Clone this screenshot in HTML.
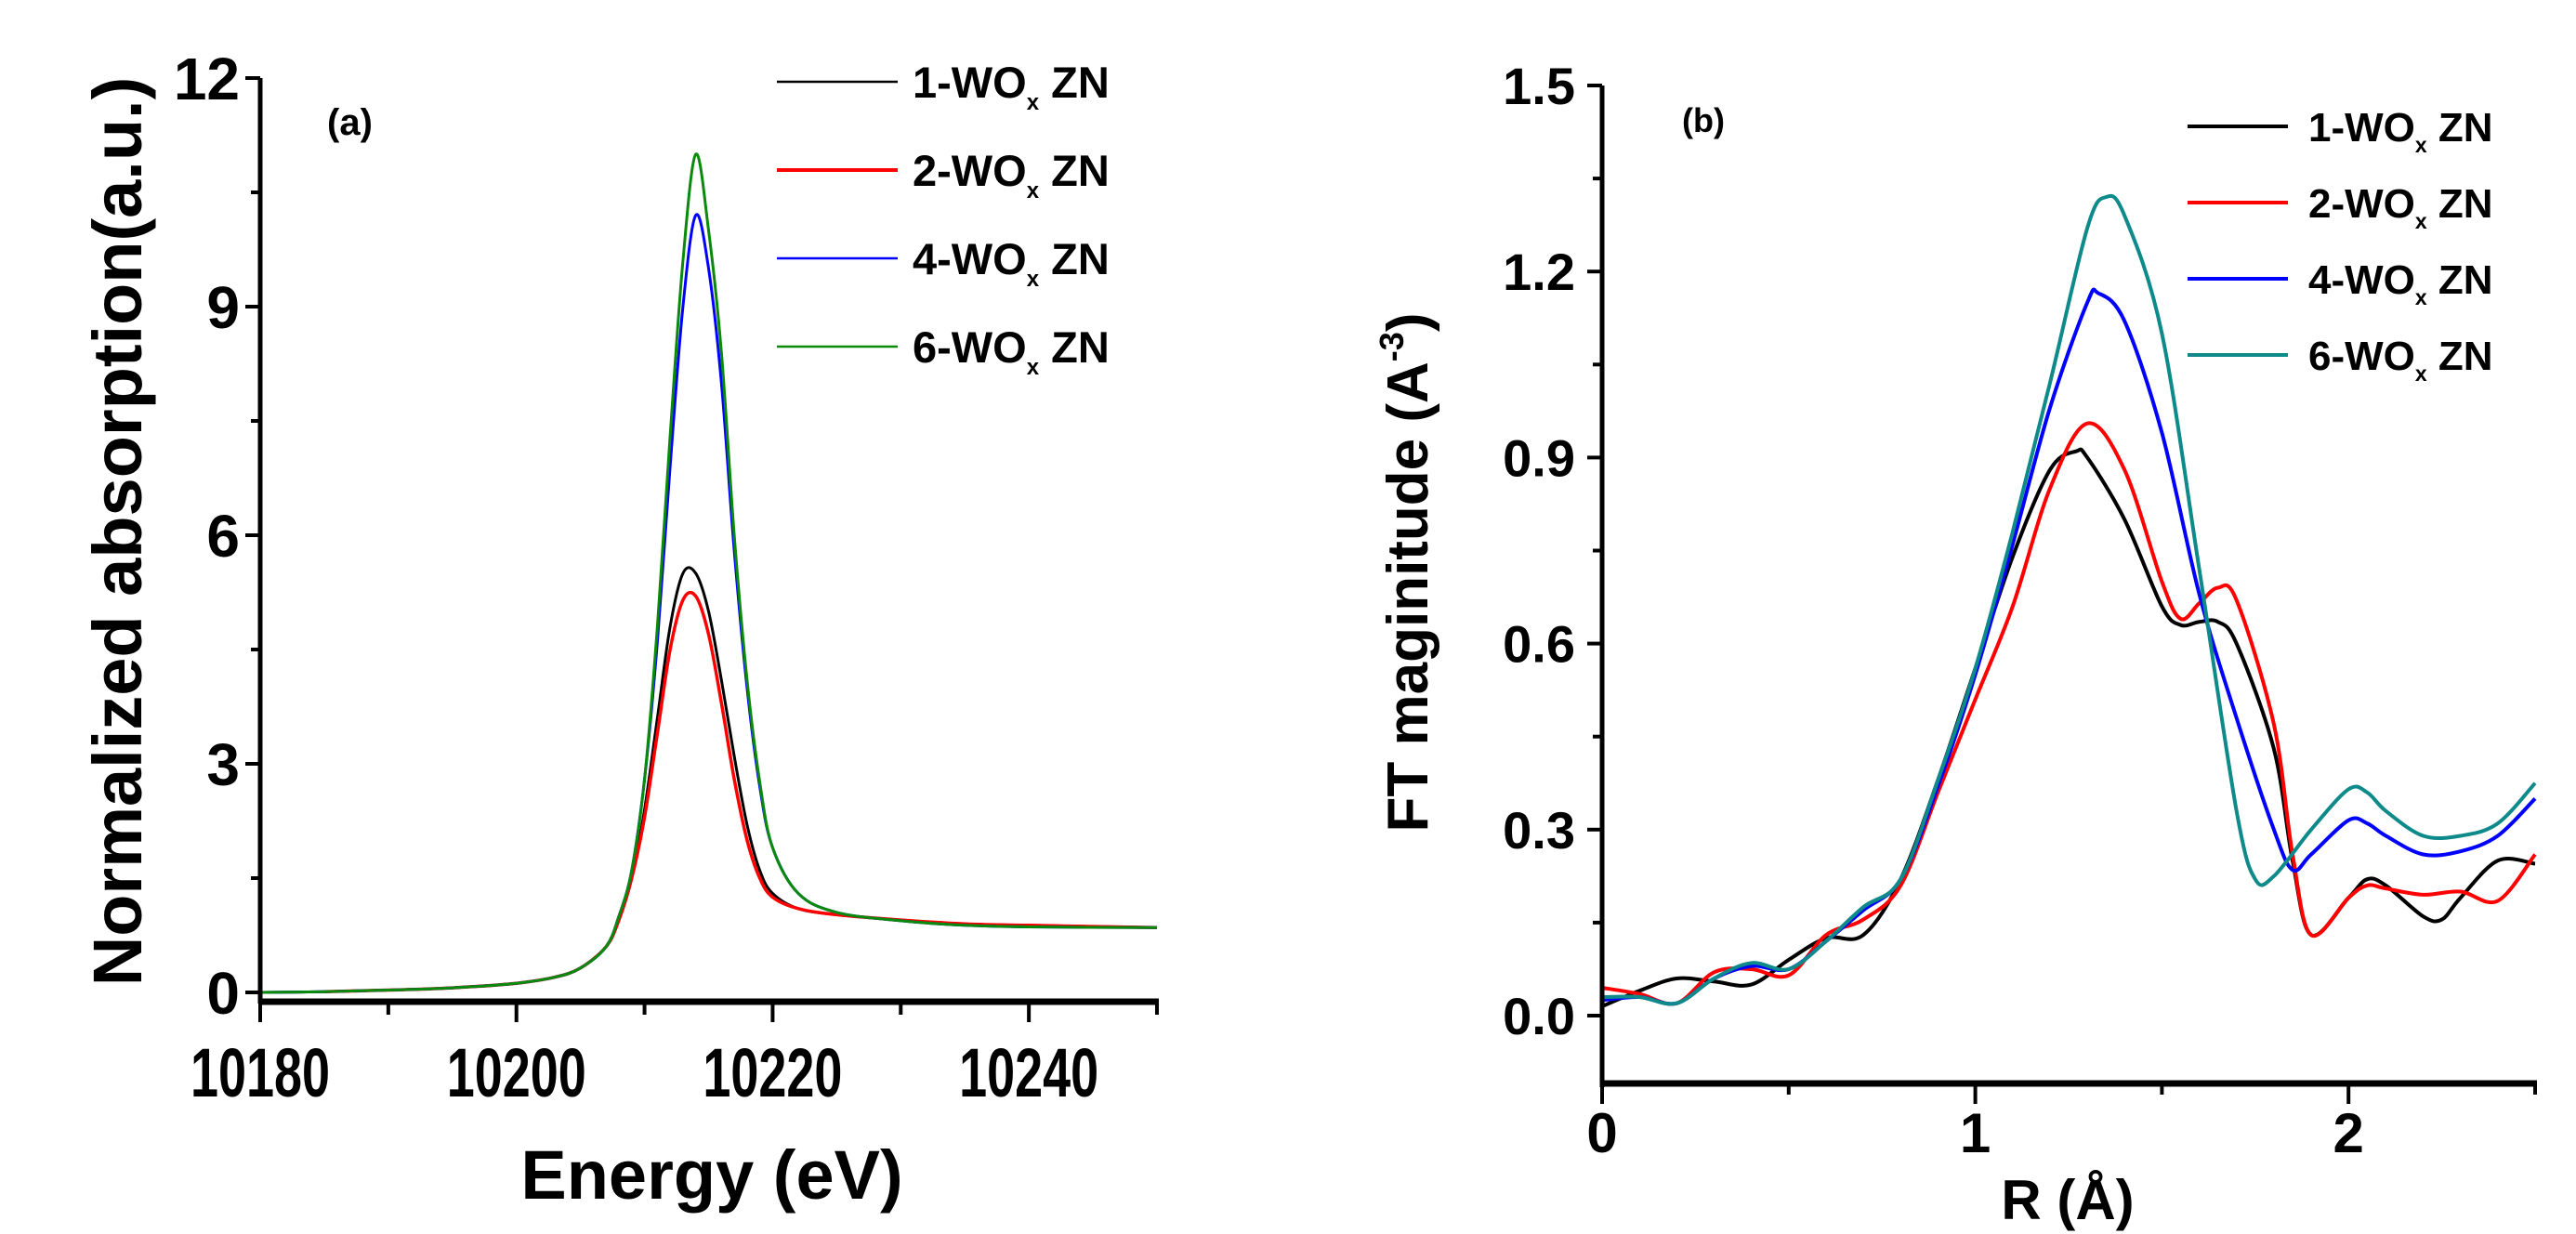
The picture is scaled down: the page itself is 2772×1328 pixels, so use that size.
<!DOCTYPE html>
<html><head><meta charset="utf-8"><style>
html,body{margin:0;padding:0;background:#fff;}
svg{display:block;font-family:"Liberation Sans",Arial,sans-serif;font-weight:bold;}
</style></head><body>
<svg id="fig" width="2772" height="1328" viewBox="0 0 2772 1328" xmlns="http://www.w3.org/2000/svg">
<g id="pa"></g>
<g id="pb"></g>
</svg>
<script>
// Panel (a) data
const aE = [10180,10185,10190,10195,10200,10203,10205,10207,10208,10209,10210,10211,10212,10213,10214,10215,10216,10217,10218,10219,10220,10222,10225,10230,10235,10240,10250];
const a1 = [0,0.01,0.03,0.06,0.12,0.2,0.32,0.6,0.95,1.5,2.4,3.6,4.8,5.5,5.5,5.0,4.1,3.1,2.2,1.6,1.3,1.1,1.02,0.95,0.9,0.88,0.85];
const a2 = [0,0.01,0.03,0.06,0.12,0.2,0.32,0.6,0.95,1.5,2.3,3.4,4.5,5.15,5.2,4.7,3.8,2.8,2.0,1.5,1.25,1.1,1.02,0.95,0.9,0.88,0.85];
const a4 = [0,0.01,0.03,0.06,0.12,0.2,0.32,0.6,1.0,1.6,2.8,4.6,6.9,9.0,10.2,9.5,8.0,5.8,4.0,2.7,1.9,1.3,1.05,0.94,0.88,0.86,0.85];
const a6 = [0,0.01,0.03,0.06,0.12,0.2,0.32,0.6,1.0,1.6,2.8,4.8,7.3,9.6,11.0,10.0,8.4,6.0,4.1,2.76,1.9,1.3,1.05,0.94,0.88,0.86,0.85];
const aYTicks = ["0","3","6","9","12"];
const aXTicks = ["10180","10200","10220","10240"];
// Panel (b) data
const bR1 = [0,0.1,0.2,0.3,0.4,0.5,0.6,0.7,0.8,0.9,1.0,1.1,1.2,1.27,1.3,1.4,1.5,1.55,1.6,1.65,1.7,1.8,1.85,1.9,2.0,2.05,2.1,2.2,2.25,2.3,2.4,2.5];
const b1 = [0.015,0.04,0.06,0.055,0.05,0.09,0.125,0.13,0.22,0.38,0.56,0.74,0.88,0.91,0.9,0.8,0.66,0.63,0.635,0.635,0.6,0.43,0.25,0.13,0.19,0.22,0.21,0.16,0.155,0.19,0.25,0.245];
const bR2 = [0,0.1,0.2,0.3,0.4,0.5,0.6,0.7,0.8,0.9,1.0,1.1,1.2,1.3,1.4,1.5,1.55,1.6,1.65,1.7,1.8,1.85,1.9,2.0,2.05,2.1,2.2,2.3,2.4,2.5];
const b2 = [0.045,0.035,0.02,0.07,0.075,0.065,0.13,0.155,0.21,0.36,0.51,0.66,0.85,0.955,0.88,0.7,0.64,0.665,0.69,0.67,0.47,0.26,0.13,0.19,0.21,0.205,0.195,0.2,0.185,0.26];
const bR4 = [0,0.1,0.2,0.3,0.4,0.5,0.6,0.7,0.8,0.9,1.0,1.1,1.2,1.3,1.33,1.4,1.5,1.6,1.7,1.8,1.85,1.9,2.0,2.05,2.1,2.2,2.3,2.4,2.5];
const b4 = [0.025,0.03,0.02,0.06,0.08,0.075,0.12,0.17,0.22,0.37,0.55,0.76,0.98,1.15,1.165,1.12,0.94,0.68,0.48,0.3,0.235,0.26,0.315,0.31,0.29,0.26,0.265,0.29,0.35];
const bR6 = [0,0.1,0.2,0.3,0.4,0.5,0.6,0.7,0.8,0.9,1.0,1.1,1.2,1.3,1.35,1.4,1.5,1.6,1.7,1.75,1.8,1.9,2.0,2.05,2.1,2.2,2.3,2.4,2.5];
const b6 = [0.03,0.03,0.02,0.06,0.085,0.075,0.12,0.175,0.22,0.38,0.56,0.78,1.02,1.27,1.32,1.29,1.1,0.72,0.33,0.22,0.225,0.3,0.365,0.36,0.33,0.29,0.29,0.31,0.375];
const bYTicks = ["0.0","0.3","0.6","0.9","1.2","1.5"];
const bXTicks = ["0","1","2"];
const legendLabels = ["1","2","4","6"];

const NS="http://www.w3.org/2000/svg";
function mk(parent,tag,attrs,text){const e=document.createElementNS(NS,tag);for(const k in attrs)e.setAttribute(k,attrs[k]);if(text!==undefined)e.textContent=text;parent.appendChild(e);return e;}
function smooth(pts){let d="M"+pts[0][0].toFixed(1)+","+pts[0][1].toFixed(1);for(let i=0;i<pts.length-1;i++){const p0=pts[Math.max(0,i-1)],p1=pts[i],p2=pts[i+1],p3=pts[Math.min(pts.length-1,i+2)];const c1=[p1[0]+(p2[0]-p0[0])/6,p1[1]+(p2[1]-p0[1])/6],c2=[p2[0]-(p3[0]-p1[0])/6,p2[1]-(p3[1]-p1[1])/6];d+="C"+c1[0].toFixed(1)+","+c1[1].toFixed(1)+" "+c2[0].toFixed(1)+","+c2[1].toFixed(1)+" "+p2[0].toFixed(1)+","+p2[1].toFixed(1);}return d;}

// ---------- Panel a ----------
const pa=document.getElementById('pa');
const AX0=280, AX1=1245, AY0=1068, AY1=84, AXL=1078;
const ax=v=>AX0+(v-10180)*(AX1-AX0)/70;
const ay=v=>AY0-v*(AY0-AY1)/12;
const aSeries=[[aE,a1,"#000",3,"series-1-wox"],[aE.slice(1),a2.slice(1),"#ff0000",3.5,"series-2-wox"],[aE,a4,"#0000ff",3,"series-4-wox"],[aE,a6,"#0a8a0a",3,"series-6-wox"]];
aSeries.forEach(s=>{const p=mk(pa,'path',{d:smooth(s[0].map((x,i)=>[ax(x),ay(s[1][i])])),fill:"none",stroke:s[2],'stroke-width':s[3]});

});
mk(pa,'line',{x1:AX0,y1:AY1,x2:AX0,y2:AXL+2,stroke:"#000",'stroke-width':5,});
mk(pa,'line',{x1:AX0-2,y1:AXL,x2:AX1+2,y2:AXL,stroke:"#000",'stroke-width':7,});
for(let i=0;i<=8;i++){const v=i*1.5;mk(pa,'line',{x1:AX0-(i%2?10:16),y1:ay(v),x2:AX0,y2:ay(v),stroke:"#000",'stroke-width':4});}
aYTicks.forEach(t=>{const e=mk(pa,'text',{x:AX0-22,y:ay(+t)+23,'text-anchor':'end','font-size':64},t);

});
for(let v=10180;v<=10250;v+=10){mk(pa,'line',{x1:ax(v),y1:AXL,x2:ax(v),y2:AXL+((v-10180)%20?14:22),stroke:"#000",'stroke-width':4});}
aXTicks.forEach(t=>{const e=mk(pa,'text',{x:ax(+t),y:1180,'text-anchor':'middle','font-size':74,textLength:150,lengthAdjust:'spacingAndGlyphs'},t);

});
mk(pa,'text',{x:766,y:1290,'text-anchor':'middle','font-size':74,},"Energy (eV)");
mk(pa,'text',{x:0,y:0,'text-anchor':'middle','font-size':74,transform:'translate(152,572) rotate(-90)',},"Normalized absorption(a.u.)");
mk(pa,'text',{x:352,y:145,'font-size':40,},"(a)");
const aCols=["#000","#ff0000","#0000ff","#0a8a0a"];
legendLabels.forEach((l,i)=>{const y=88+i*95;const g=mk(pa,'g',{});


mk(g,'line',{x1:836,y1:y,x2:966,y2:y,stroke:aCols[i],'stroke-width':i==1?4:2.5});
const t=mk(g,'text',{x:982,y:y+17,'font-size':47},l+"-WO");mk(t,'tspan',{'font-size':24,dy:13},"x");mk(t,'tspan',{dy:-13},"\u00a0ZN");});

// ---------- Panel b ----------
const pb=document.getElementById('pb');
const bx=v=>1724+v*(2728-1724)/2.5;
const by=v=>1093-v*(1093-92)/1.5;
const bSeries=[[bR1,b1,"#000","series-1-wox-ft"],[bR2,b2,"#ff0000","series-2-wox-ft"],[bR4,b4,"#0000ff","series-4-wox-ft"],[bR6,b6,"#0e8a8a","series-6-wox-ft"]];
bSeries.forEach(s=>{const p=mk(pb,'path',{d:smooth(s[0].map((x,i)=>[bx(x),by(s[1][i])])),fill:"none",stroke:s[2],'stroke-width':4});

});
mk(pb,'line',{x1:1724,y1:92,x2:1724,y2:1170,stroke:"#000",'stroke-width':5,});
mk(pb,'line',{x1:1722,y1:1166,x2:2730,y2:1166,stroke:"#000",'stroke-width':7,});
for(let i=-0;i<=10;i++){const v=i*0.15;mk(pb,'line',{x1:1724-(i%2?10:16),y1:by(v),x2:1724,y2:by(v),stroke:"#000",'stroke-width':4});}
bYTicks.forEach(t=>{const e=mk(pb,'text',{x:1695,y:by(+t)+20,'text-anchor':'end','font-size':56},t);

});
for(let i=0;i<=5;i++){const v=i*0.5;mk(pb,'line',{x1:bx(v),y1:1166,x2:bx(v),y2:1166+(i%2?12:22),stroke:"#000",'stroke-width':4});}
bXTicks.forEach(t=>{const e=mk(pb,'text',{x:bx(+t),y:1240,'text-anchor':'middle','font-size':60},t);

});
mk(pb,'text',{x:2225,y:1312,'text-anchor':'middle','font-size':60,},"R (\u00c5)");
const yt=mk(pb,'text',{x:0,y:0,'text-anchor':'middle','font-size':62,transform:'translate(1536,616) rotate(-90)',},"FT maginitude (A");
mk(yt,'tspan',{'font-size':36,dy:-26},"-3");mk(yt,'tspan',{dy:26},")");
mk(pb,'text',{x:1810,y:142,'font-size':36,},"(b)");
const bCols=["#000","#ff0000","#0000ff","#0e8a8a"];
legendLabels.forEach((l,i)=>{const y=136+i*82;const g=mk(pb,'g',{});


mk(g,'line',{x1:2354,y1:y,x2:2462,y2:y,stroke:bCols[i],'stroke-width':4});
const t=mk(g,'text',{x:2484,y:y+16,'font-size':44},l+"-WO");mk(t,'tspan',{'font-size':23,dy:12},"x");mk(t,'tspan',{dy:-12},"\u00a0ZN");});
</script>
</body></html>
